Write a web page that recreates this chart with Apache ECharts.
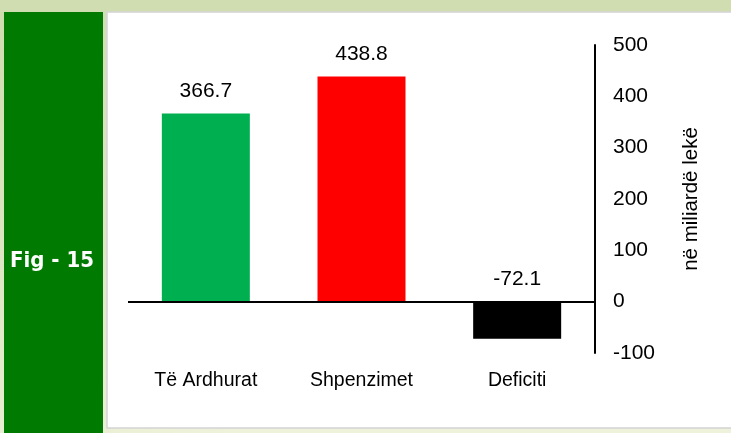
<!DOCTYPE html>
<html>
<head>
<meta charset="utf-8">
<script src="https://cdn.jsdelivr.net/npm/echarts@6/dist/echarts.min.js"></script>
<style>
  html, body { margin: 0; padding: 0; background: #cfddb0; }
  #chart { width: 731px; height: 433px; }
</style>
</head>
<body>
<div id="chart"></div>
<script>
var categories = ["Të Ardhurat", "Shpenzimet", "Deficiti"];
var values = [366.7, 438.8, -72.1];
var barColors = ["#00b050", "#ff0000", "#000000"];
var yTicks = [-100, 0, 100, 200, 300, 400, 500];

var chart = echarts.init(document.getElementById("chart"));
var font = "'Liberation Sans', Arial, sans-serif";

chart.setOption({
  animation: false,
  backgroundColor: {
    type: "linear", x: 0, y: 0, x2: 0.3, y2: 1,
    colorStops: [{offset: 0, color: "#cddcad"}, {offset: 1, color: "#eef2da"}]
  },
  graphic: [
    // bande e sipërme
    {type: "rect", shape: {x: 0, y: 0, width: 731, height: 12}, style: {fill: "#cfddb0"}, z: -10},
    // paneli jeshil
    {type: "rect", shape: {x: 4, y: 12, width: 99, height: 421}, style: {fill: "#007a00"}, z: -10},
    {type: "text", left: 10, top: 250, style: {
      text: "Fig - 15", fill: "#ffffff", font: "bold 22px 'DejaVu Sans Condensed', 'DejaVu Sans', sans-serif"
    }, z: 10},
    // paneli i bardhë
    {type: "rect", shape: {x: 107, y: 12, width: 630, height: 416},
      style: {fill: "#ffffff", stroke: "#d4d4d4", lineWidth: 1.5}, z: -10}
  ],
  grid: {left: 128, right: 136, top: 45, bottom: 80},
  xAxis: {
    type: "category",
    data: categories,
    position: "bottom",
    axisLine: {show: false, onZero: false},
    axisTick: {show: false},
    axisLabel: {color: "#000", fontSize: 19.5, fontFamily: font, margin: 18}
  },
  yAxis: {
    type: "value",
    position: "right",
    min: -100, max: 500, interval: 100,
    name: "në miliardë lekë",
    nameLocation: "middle",
    nameRotate: 90,
    nameGap: 86,
    nameTextStyle: {color: "#000", fontSize: 20.5, fontFamily: font},
    axisLine: {show: true, lineStyle: {color: "#000", width: 2}},
    axisTick: {show: false},
    splitLine: {show: false},
    axisLabel: {
      color: "#000", fontSize: 21, fontFamily: font, margin: 18,
      formatter: function (v) { return yTicks.indexOf(v) >= 0 ? String(v) : ""; }
    }
  },
  series: [{
    type: "bar",
    barWidth: 88,
    data: values.map(function (v, i) {
      return {value: v, itemStyle: {color: barColors[i]}};
    }),
    label: {
      show: true, position: "top", distance: 12,
      color: "#000", fontSize: 21, fontFamily: font
    },
    markLine: {
      silent: true,
      symbol: "none",
      label: {show: false},
      lineStyle: {color: "#000", width: 2, type: "solid"},
      data: [{yAxis: 0}]
    }
  }]
});
</script>
</body>
</html>
